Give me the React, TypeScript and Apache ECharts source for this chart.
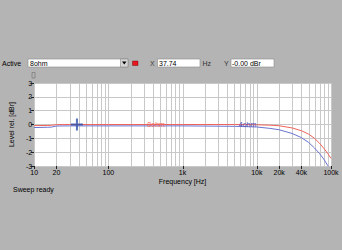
import React, { useEffect, useRef } from "react";
import * as echarts from "echarts";

const FREQ_8OHM = [10, 15, 17, 20, 30, 100, 1000, 5000, 10000, 15000, 20000, 30000, 40000, 50000, 60000, 70000, 80000, 90000, 100000];
const LEVEL_8OHM = [-0.08, -0.07, -0.06, -0.01, 0, 0, 0, 0, -0.02, -0.05, -0.09, -0.25, -0.45, -0.7, -1.0, -1.35, -1.72, -2.08, -2.45];
const FREQ_4OHM = [10, 15, 17, 20, 30, 100, 1000, 5000, 10000, 15000, 20000, 30000, 40000, 50000, 60000, 70000, 80000, 90000, 100000];
const LEVEL_4OHM = [-0.22, -0.2, -0.19, -0.11, -0.1, -0.1, -0.1, -0.13, -0.18, -0.28, -0.38, -0.65, -0.95, -1.3, -1.7, -2.1, -2.5, -2.95, -3.4];
const X_TICKS = [10, 20, 100, 1000, 10000, 20000, 40000, 100000];
const X_TICK_LABELS = ["10", "20", "100", "1k", "10k", "20k", "40k", "100k"];
const GRID_FREQS = [
  10, 20, 30, 40, 50, 60, 70, 80, 90,
  100, 200, 300, 400, 500, 600, 700, 800, 900,
  1000, 2000, 3000, 4000, 5000, 6000, 7000, 8000, 9000,
  10000, 20000, 30000, 40000, 50000, 60000, 70000, 80000, 90000, 100000,
];
const CURSOR = [37.74, 0];
const LABEL_8OHM = [440, 0];
const LABEL_4OHM = [7500, 0];

const FONT = "Liberation Sans";
const RED = "#f0645a";
const BLUE = "#6a72d0";

export default function App() {
  const ref = useRef<HTMLDivElement>(null);
  useEffect(() => {
    const chart = echarts.init(ref.current!, null, { renderer: "svg" });
    const txt = (x: number, y: number, t: string, extra: any = {}) => ({
      type: "text",
      x,
      y,
      silent: true,
      style: { text: t, fontFamily: FONT, fontSize: 7, fill: "#000", verticalAlign: "middle", ...extra },
    });
    const box = (x: number, w: number) => ({
      type: "rect",
      shape: { x, y: 59, width: w, height: 8 },
      style: { fill: "#fff", stroke: "#8a8a8a", lineWidth: 0.6 },
      silent: true,
    });
    chart.setOption({
      animation: false,
      backgroundColor: "#b4b4b4",
      grid: {
        left: 24,
        right: 11,
        top: 83,
        bottom: 84,
        show: true,
        backgroundColor: "#ffffff",
        borderWidth: 0,
      },
      xAxis: {
        type: "log",
        logBase: 10,
        min: 10,
        max: 100000,
        name: "Frequency [Hz]",
        nameLocation: "middle",
        nameGap: 12,
        nameTextStyle: { fontFamily: FONT, fontSize: 7, color: "#000" },
        axisLine: { show: false },
        axisTick: { show: false },
        axisLabel: { show: false },
        splitLine: { show: false },
      },
      yAxis: {
        type: "value",
        min: -3,
        max: 3,
        interval: 1,
        name: "Level rel. [dBr]",
        nameLocation: "middle",
        nameGap: 15,
        nameTextStyle: { fontFamily: FONT, fontSize: 7, color: "#000" },
        axisLine: { show: false },
        axisTick: { show: true, length: 3, lineStyle: { color: "#222" } },
        axisLabel: { fontFamily: FONT, fontSize: 7, color: "#000", margin: 2 },
        splitLine: { show: true, lineStyle: { color: "#c8c8c8", width: 1 } },
      },
      graphic: [
        txt(2, 63, "Active"),
        box(28, 100),
        txt(30, 63, "8ohm"),
        {
          type: "rect",
          shape: { x: 120.5, y: 59, width: 7.5, height: 8 },
          style: { fill: "#d6d6d6", stroke: "#8a8a8a", lineWidth: 0.6 },
          silent: true,
        },
        {
          type: "polygon",
          shape: { points: [[122, 61.5], [126.5, 61.5], [124.25, 64.5]] },
          style: { fill: "#000" },
          silent: true,
        },
        {
          type: "rect",
          shape: { x: 132.5, y: 61, width: 5.5, height: 4.5 },
          style: { fill: "#e8141e", stroke: "#600", lineWidth: 0.4 },
          silent: true,
        },
        txt(150, 63, "X", { fill: "#444" }),
        box(157.5, 42.5),
        txt(159, 63, "37.74"),
        txt(202.5, 63, "Hz", { fill: "#333" }),
        txt(224, 63, "Y", { fill: "#333" }),
        box(231, 43),
        txt(232, 63, "-0.00 dBr"),
        {
          type: "rect",
          shape: { x: 32, y: 72.5, width: 3, height: 5.5 },
          style: { fill: "none", stroke: "#777", lineWidth: 0.7 },
          silent: true,
        },
        txt(13, 189, "Sweep ready"),
      ],
      series: [
        {
          type: "custom",
          silent: true,
          clip: false,
          z: 1,
          data: GRID_FREQS.map((f) => [f]),
          encode: { x: 0 },
          renderItem: (params: any, api: any) => {
            const top = api.coord([api.value(0), 3]);
            const bot = api.coord([api.value(0), -3]);
            return {
              type: "line",
              shape: { x1: Math.round(top[0]) + 0.5, y1: top[1], x2: Math.round(top[0]) + 0.5, y2: bot[1] },
              style: { stroke: "#c8c8c8", lineWidth: 1 },
            };
          },
        },
        {
          type: "custom",
          silent: true,
          clip: false,
          z: 3,
          data: X_TICKS.map((f, i) => [f, -3, X_TICK_LABELS[i]]),
          encode: { x: 0, y: 1 },
          renderItem: (params: any, api: any) => {
            const p = api.coord([api.value(0), api.value(1)]);
            const x = Math.round(p[0]) + 0.5;
            return {
              type: "group",
              children: [
                { type: "line", shape: { x1: x, y1: p[1], x2: x, y2: p[1] + 3 }, style: { stroke: "#222", lineWidth: 1 } },
                {
                  type: "text",
                  x: p[0],
                  y: p[1] + 2.5,
                  style: {
                    text: X_TICK_LABELS[params.dataIndex],
                    fontFamily: FONT,
                    fontSize: 7,
                    fill: "#000",
                    align: "center",
                    verticalAlign: "top",
                  },
                },
              ],
            };
          },
        },
        {
          name: "8ohm",
          type: "line",
          z: 4,
          symbol: "none",
          data: FREQ_8OHM.map((f, i) => [f, LEVEL_8OHM[i]]),
          lineStyle: { color: RED, width: 1 },
          markPoint: {
            silent: true,
            symbol: "circle",
            symbolSize: 0,
            data: [{ coord: LABEL_8OHM, value: "8ohm" }],
            label: { show: true, position: "inside", formatter: "8ohm", color: RED, fontFamily: FONT, fontSize: 7 },
          },
        },
        {
          name: "4ohm",
          type: "line",
          z: 4,
          symbol: "none",
          data: FREQ_4OHM.map((f, i) => [f, LEVEL_4OHM[i]]),
          lineStyle: { color: BLUE, width: 1 },
          markPoint: {
            silent: true,
            symbol: "circle",
            symbolSize: 0,
            data: [{ coord: LABEL_4OHM, value: "4ohm" }],
            label: { show: true, position: "inside", formatter: "4ohm", color: "#4a52b8", fontFamily: FONT, fontSize: 7 },
          },
        },
        {
          type: "scatter",
          z: 6,
          silent: true,
          symbol: "path://M5,0h2v5h5v2h-5v5h-2v-5h-5v-2h5z",
          symbolSize: 12,
          itemStyle: { color: "#2c4ca8" },
          data: [CURSOR],
        },
      ],
    });
    return () => chart.dispose();
  }, []);
  return <div ref={ref} style={{ position: "fixed", left: 0, top: 0, width: 342, height: 250 }} />;
}
